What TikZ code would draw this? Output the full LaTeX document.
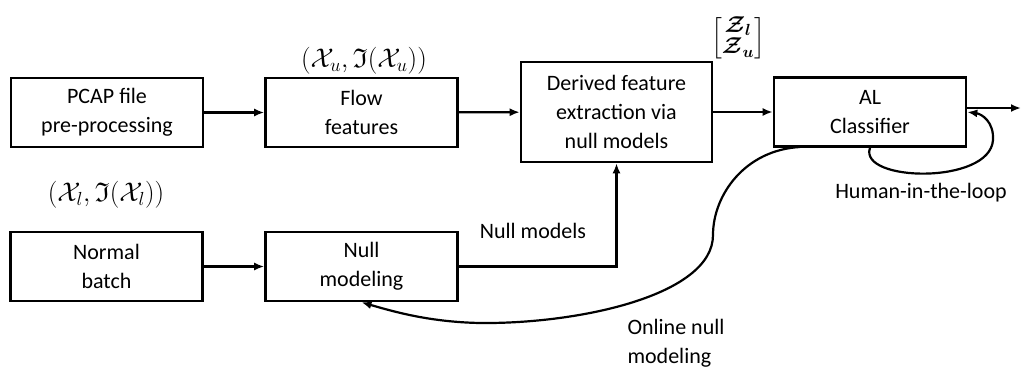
\documentclass[tikz,border=0pt]{standalone}
\usepackage{amsmath}
\usepackage{amssymb}
\usepackage{bm}
\usepackage{fix-cm}
\usepackage{fontspec}
\setmainfont{Carlito}
\usepackage{tikz}
\usetikzlibrary{arrows.meta}

\tikzset{
  blockbox/.style={draw,line width=2.6pt,minimum width=192pt,minimum height=69pt,
    align=center,inner sep=2pt},
  mathlbl/.style={font=\fontsize{27}{30}\selectfont},
  flowarrow/.style={line width=2.2pt,-{Latex[length=10pt,width=8pt]}},
}

\begin{document}
\begin{tikzpicture}[x=1pt,y=-1pt,font=\fontsize{22}{29}\selectfont]
\useasboundingbox (0,0) rectangle (1023,368);
% boxes
\node[blockbox] (pcap) at (107,112.5) {PCAP file\\pre-processing};
\node[blockbox] (flow) at (361.5,112.5) {Flow\\features};
\node[blockbox,minimum width=191pt,minimum height=100pt] (derived) at (616.5,112) {Derived feature\\extraction via\\null models};
\node[blockbox] (alc) at (870,112) {AL\\Classifier};
\node[blockbox] (normal) at (106.5,266.5) {Normal\\batch};
\node[blockbox] (nullmod) at (361.5,266.5) {Null\\modeling};
% labels
\node[mathlbl] (xu) at (364,61) {\(({\mathcal{X}}_u,\mathfrak{I}({\mathcal{X}}_u))\)};
\node[mathlbl] (xl) at (106,195) {\(({\mathcal{X}}_l,\mathfrak{I}({\mathcal{X}}_l))\)};
\node[font=\fontsize{23}{26}\selectfont,inner sep=0pt] (zmat) at (738,38) {\(\renewcommand{\arraystretch}{0.72}\begin{bmatrix}\bm{\mathcal{Z}}_{\bm{l}}\\ \bm{\mathcal{Z}}_{\bm{u}}\end{bmatrix}\)};
\node (human) at (921,193) {Human-in-the-loop};
\node (nulllbl) at (533,231) {Null models};
\node[anchor=west,align=left] (online) at (624,343) {Online null\\modeling};
\coordinate (out) at (1021,108);
% connectors
\draw[flowarrow] (pcap) -- (flow);
\draw[flowarrow] (flow) -- (derived);
\draw[flowarrow] (derived.east) -- (alc.west);
\draw[flowarrow] (alc.east |- out) -- (out);
\draw[flowarrow] (normal) -- (nullmod);
\draw[flowarrow] (nullmod.east) -| (derived.south);
\draw[flowarrow] (alc.south) .. controls (858,182) and (990,185) .. (993,140)
  .. controls (994,122) and (982,114) .. (alc.east);
\draw[flowarrow] (800,147) .. controls (745,150) and (713,195) .. (713,235)
  .. controls (713,295) and (580,324) .. (480,323)
  .. controls (430,322) and (395,312) .. (nullmod.south);
\end{tikzpicture}
\end{document}
